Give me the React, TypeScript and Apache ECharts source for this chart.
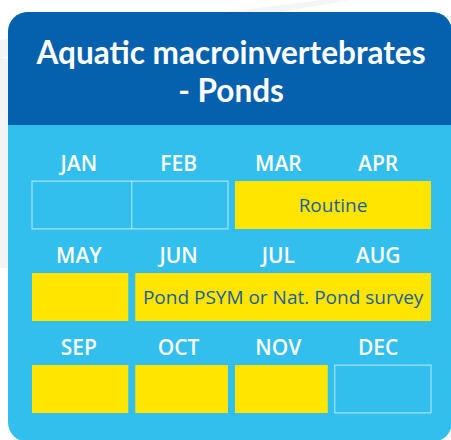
import React, { useEffect, useRef } from "react";
import * as echarts from "echarts";

const titleLines = ["Aquatic macroinvertebrates", "- Ponds"];
const months = ["JAN", "FEB", "MAR", "APR", "MAY", "JUN", "JUL", "AUG", "SEP", "OCT", "NOV", "DEC"];
const monthsPerRow = 4;

// survey calendar segments: row, first column, end column, label, surveyed?
const segRow = [0, 0, 1, 1, 2, 2, 2, 2];
const segStart = [0, 2, 0, 1, 0, 1, 2, 3];
const segEnd = [2, 4, 1, 4, 1, 2, 3, 4];
const segLabel = ["", "Routine", "", "Pond PSYM or Nat. Pond survey", "", "", "", ""];
const segActive = [0, 1, 1, 1, 1, 1, 1, 0];

const DARK = "#0560ad";
const LIGHT = "#33bfee";
const YELLOW = "#ffe500";
const TEXT_BLUE = "#1d5f9c";

export default function App() {
  const ref = useRef<HTMLDivElement>(null);
  useEffect(() => {
    if (!ref.current) return;
    const chart = echarts.init(ref.current, null, { renderer: "svg" });
    const segData = segRow.map((r, i) => [segStart[i], segEnd[i], r, segActive[i], segLabel[i]]);
    const monthData = months.map((m, i) => [i % monthsPerRow, Math.floor(i / monthsPerRow), m]);
    const GAP = 3.5;
    chart.setOption({
      animation: false,
      backgroundColor: "#ffffff",
      graphic: [
        { type: "polygon", z: -10, shape: { points: [[0, 40], [322, 0], [352, 0], [0, 58]] }, style: { fill: "#f4f5f7" } },
        { type: "rect", z: -10, shape: { x: 0, y: 58, width: 10, height: 210 }, style: { fill: "#f3f4f6" } },
        { type: "rect", z: -5, shape: { x: 8, y: 12, width: 444, height: 430, r: 20 }, style: { fill: LIGHT } },
        { type: "rect", z: -4, shape: { x: 8, y: 12, width: 444, height: 113, r: [20, 20, 0, 0] }, style: { fill: DARK } },
        ...titleLines.map((t, i) => ({
          type: "text",
          z: 5,
          style: {
            x: 231,
            y: 52 + i * 38,
            text: t,
            textAlign: "center",
            textVerticalAlign: "middle",
            fill: "#ffffff",
            font: "bold 31.5px Lato",
          },
        })),
      ],
      grid: { left: 32, right: 20, top: 159, bottom: 5 },
      xAxis: { type: "value", min: 0, max: 4, show: false },
      yAxis: { type: "value", min: -0.5, max: 2.5, inverse: true, show: false },
      series: [
        {
          type: "custom",
          data: segData,
          renderItem: (params: any, api: any) => {
            const s = api.value(0);
            const e = api.value(1);
            const r = api.value(2);
            const active = api.value(3);
            const label = segLabel[params.dataIndex];
            const p0 = api.coord([s, r]);
            const p1 = api.coord([e, r]);
            const rowH = api.size([0, 1])[1];
            const h = rowH * 0.52;
            const x0 = p0[0] + (s > 0 ? GAP : 0);
            const x1 = p1[0] - (e < 4 ? GAP : 0);
            const y0 = p0[1] - h / 2;
            const children: any[] = [];
            if (active) {
              children.push({ type: "rect", shape: { x: x0, y: y0, width: x1 - x0, height: h }, style: { fill: YELLOW } });
              if (label) {
                children.push({
                  type: "text",
                  style: {
                    x: (x0 + x1) / 2,
                    y: p0[1],
                    text: label,
                    textAlign: "center",
                    textVerticalAlign: "middle",
                    fill: TEXT_BLUE,
                    font: "19px 'Open Sans'",
                  },
                });
              }
            } else {
              children.push({
                type: "rect",
                shape: { x: x0, y: y0, width: x1 - x0, height: h },
                style: { fill: "none", stroke: "rgba(255,255,255,0.55)", lineWidth: 1.2 },
              });
              for (let c = s + 1; c < e; c++) {
                const px = api.coord([c, r])[0];
                children.push({
                  type: "line",
                  shape: { x1: px, y1: y0, x2: px, y2: y0 + h },
                  style: { stroke: "rgba(255,255,255,0.55)", lineWidth: 1.2 },
                });
              }
            }
            return { type: "group", children };
          },
        },
        {
          type: "custom",
          data: monthData,
          renderItem: (params: any, api: any) => {
            const c = api.value(0);
            const r = api.value(1);
            const p = api.coord([c + 0.5, r]);
            const rowH = api.size([0, 1])[1];
            return {
              type: "text",
              style: {
                x: p[0] - 3,
                y: p[1] - rowH * 0.46,
                text: months[params.dataIndex],
                textAlign: "center",
                textVerticalAlign: "middle",
                fill: "#ffffff",
                font: "600 21px 'Open Sans'",
              },
            };
          },
        },
      ],
    });
    return () => chart.dispose();
  }, []);
  return <div ref={ref} style={{ position: "fixed", left: 0, top: 0, width: 451, height: 440 }} />;
}
